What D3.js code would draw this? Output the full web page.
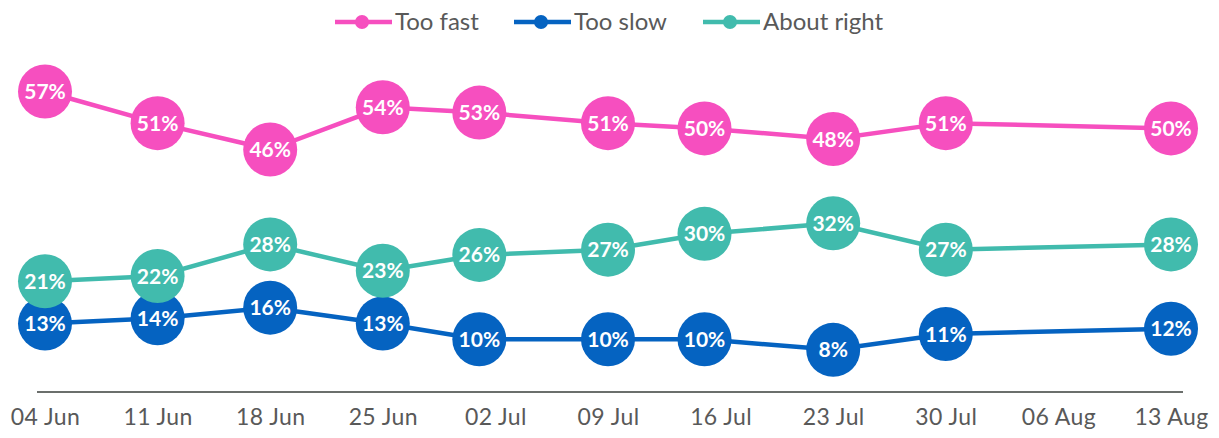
<!DOCTYPE html>
<html>
<head>
<meta charset="utf-8">
<title>Too fast / too slow / about right</title>
<script src="https://d3js.org/d3.v7.min.js"></script>
<style>
  body { margin: 0; background: #fff; }
  text { font-family: "Lato", "Open Sans", sans-serif; }
</style>
</head>
<body>
<div id="chart"></div>
<script>
// survey weeks (points) and axis ticks
const pointDates = ["2018-06-04", "2018-06-11", "2018-06-18", "2018-06-25", "2018-07-01",
                    "2018-07-09", "2018-07-15", "2018-07-23", "2018-07-30", "2018-08-13"];
const tickDates = ["2018-06-04", "2018-06-11", "2018-06-18", "2018-06-25", "2018-07-02", "2018-07-09",
                   "2018-07-16", "2018-07-23", "2018-07-30", "2018-08-06", "2018-08-13"];

const tooFast = [57, 51, 46, 54, 53, 51, 50, 48, 51, 50];
const tooSlow = [13, 14, 16, 13, 10, 10, 10, 8, 11, 12];
const aboutRight = [21, 22, 28, 23, 26, 27, 30, 32, 27, 28];

const seriesNames = ["Too fast", "Too slow", "About right"];
const seriesColors = ["#f64fbf", "#0563c1", "#41bbad"];

const W = 1219, H = 438;
const parse = d3.utcParse("%Y-%m-%d");

const svg = d3.select("#chart").append("svg")
    .attr("width", W)
    .attr("height", H);

const x = d3.scaleUtc()
    .domain([parse(tickDates[0]), parse(tickDates[tickDates.length - 1])])
    .range([45, 1171]);

const y = d3.scaleLinear()
    .domain([0, 57])
    .range([392, 91.5]);

// x axis
const xAxis = d3.axisBottom(x)
    .tickValues(tickDates.map(parse))
    .tickFormat(d3.utcFormat("%d %b"))
    .tickSize(0)
    .tickPadding(17);

const gx = svg.append("g")
    .attr("transform", "translate(0," + y(0) + ")")
    .call(xAxis);
gx.select(".domain").remove();
gx.append("line")
    .attr("x1", x.range()[0] - 8)
    .attr("x2", x.range()[1] + 12)
    .attr("stroke", "#6b6f6c")
    .attr("stroke-width", 2);
gx.selectAll(".tick text")
    .attr("fill", "#595959")
    .attr("font-size", "23px")
    .attr("letter-spacing", "0.4px");

const series = [tooFast, tooSlow, aboutRight].map(function(vals, i) {
    return {
        name: seriesNames[i],
        color: seriesColors[i],
        values: vals.map(function(v, j) { return {date: parse(pointDates[j]), v: v}; })
    };
});

const line = d3.line()
    .x(function(d) { return x(d.date); })
    .y(function(d) { return y(d.v); });

// draw in order so that teal sits above blue like the original
const drawOrder = [series[1], series[2], series[0]];

drawOrder.forEach(function(s) {
    const g = svg.append("g");
    g.append("path")
        .datum(s.values)
        .attr("fill", "none")
        .attr("stroke", s.color)
        .attr("stroke-width", 4.5)
        .attr("d", line);

    const pts = g.selectAll("g.pt")
        .data(s.values)
        .join("g")
        .attr("class", "pt")
        .attr("transform", function(d) { return "translate(" + x(d.date) + "," + y(d.v) + ")"; });

    pts.append("circle")
        .attr("r", 27)
        .attr("fill", s.color);

    pts.append("text")
        .attr("text-anchor", "middle")
        .attr("dy", "0.36em")
        .attr("fill", "#fff")
        .attr("font-weight", "bold")
        .attr("font-size", "21px")
        .text(function(d) { return d.v + "%"; });
});

// legend
const legendX = [335, 514, 703];
const legend = svg.append("g").attr("transform", "translate(0,22)");
series.forEach(function(s, i) {
    const lg = legend.append("g").attr("transform", "translate(" + legendX[i] + ",0)");
    lg.append("line")
        .attr("x1", 0).attr("x2", 57)
        .attr("stroke", s.color)
        .attr("stroke-width", 4.5);
    lg.append("circle")
        .attr("cx", 27).attr("r", 7)
        .attr("fill", s.color);
    lg.append("text")
        .attr("x", 60)
        .attr("dy", "0.35em")
        .attr("fill", "#595959")
        .attr("font-size", "24px")
        .text(s.name);
});
</script>
</body>
</html>
